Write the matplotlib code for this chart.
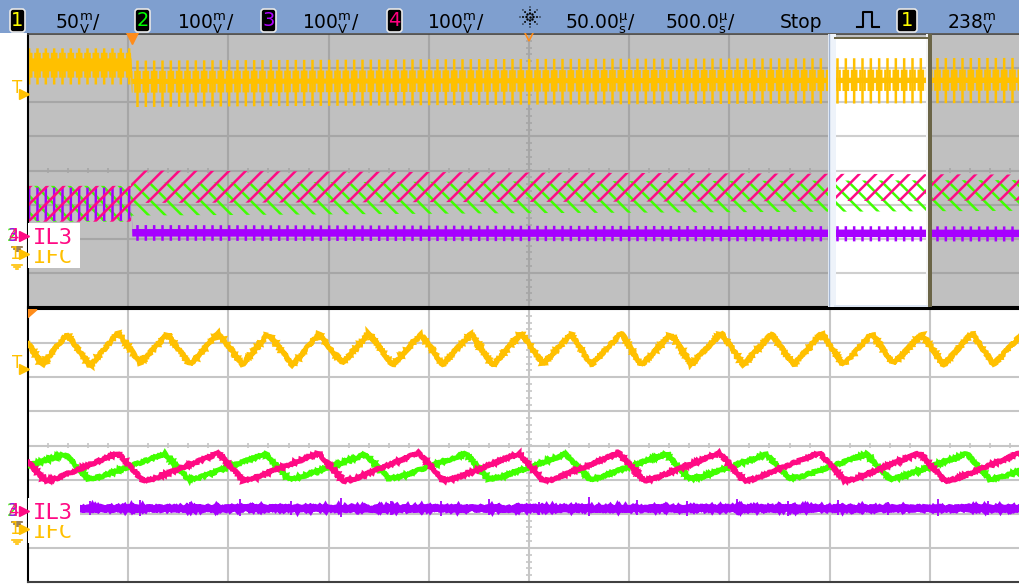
import numpy as np
import matplotlib
matplotlib.use("Agg")
import matplotlib.pyplot as plt
from matplotlib.patches import Rectangle, FancyBboxPatch, Polygon
from matplotlib.transforms import blended_transform_factory

# ---- scope settings shown in the header ----
ch_ids = ["1", "2", "3", "4"]
ch_scales = ["50", "100", "100", "100"]          # mV/div
time_scales = ["50.00", "500.0"]                 # µs/div (zoom, main)
run_state = "Stop"
trig_source = "1"
trig_level_mv = 238
ch1_ground_div = -2.46
ch234_ground_div = -1.93
label_il3 = "IL3"
label_ifc = "IFC"

# ---- main window (500 µs/div): envelopes of the compressed traces ----
main_t = [0, 514, 518, 2500, 5000]
yel_hi = [3.58, 3.58, 3.22, 3.27, 3.30]
yel_lo = [2.52, 2.52, 1.86, 1.93, 1.98]
yel_mid_hi = [3.45, 3.45, 2.92, 2.94, 2.96]
yel_mid_lo = [2.72, 2.72, 2.28, 2.31, 2.34]
yel_core_hi = [3.30, 3.30, 2.70, 2.72, 2.74]
yel_core_lo = [2.92, 2.92, 2.55, 2.57, 2.58]
pnk_hi = [-0.45, -0.45, 0.00, -0.06, -0.12]
pnk_lo = [-1.50, -1.50, -0.95, -0.92, -0.88]
grn_hi = [-0.45, -0.45, -0.36, -0.32, -0.28]
grn_lo = [-1.50, -1.50, -1.32, -1.25, -1.18]
pur_hi = [-0.50, -0.50, -1.60, -1.62, -1.64]
pur_lo = [-1.48, -1.48, -2.06, -2.07, -2.08]
pur_core_hi = [-0.95, -0.95, -1.70, -1.71, -1.72]
pur_core_lo = [-0.95, -0.95, -1.92, -1.93, -1.94]
zoom_start, zoom_end = 4000, 4500

# ---- zoom window (50 µs/div), t in µs, y in divisions ----
yel_t = [0, 7, 19.5, 31, 45, 56, 69.5, 81, 95, 107, 120, 132, 145, 157, 170,
         182, 196, 207, 221, 232, 246, 257, 271, 281, 296, 306, 321, 331, 346,
         357, 371, 382, 396, 407, 421, 432, 446, 457, 471, 482, 496, 500]
yel_y = [3.0, 2.36, 3.27, 2.33, 3.31, 2.42, 3.25, 2.36, 3.30, 2.38, 3.28, 2.35,
         3.27, 2.40, 3.29, 2.36, 3.26, 2.37, 3.28, 2.34, 3.30, 2.39, 3.27, 2.36,
         3.29, 2.35, 3.26, 2.38, 3.30, 2.36, 3.27, 2.37, 3.29, 2.35, 3.28, 2.39,
         3.27, 2.36, 3.29, 2.38, 3.27, 2.97]
grn_t = [0, 18.5, 30, 36, 68.5, 80, 86, 118.5, 130, 136, 168.5, 180, 186, 218.5,
         230, 236, 268.5, 280, 286, 318.5, 330, 336, 368.5, 380, 386, 418.5, 430,
         436, 468.5, 480, 486, 500]
grn_y = [-0.60, -0.25, -0.98, -0.92, -0.24, -0.99, -0.93, -0.25, -0.98, -0.92,
         -0.26, -0.97, -0.91, -0.24, -0.98, -0.93, -0.25, -0.99, -0.92, -0.24,
         -0.98, -0.92, -0.26, -0.97, -0.91, -0.25, -0.98, -0.92, -0.24, -0.99,
         -0.93, -0.63]
pnk_t = [0, 8.5, 14, 45, 57.5, 63, 95, 107.5, 113, 145, 157.5, 163, 195, 207.5,
         213, 245, 257.5, 263, 295, 307.5, 313, 345, 357.5, 363, 395, 407.5, 413,
         445, 457.5, 463, 495, 500]
pnk_y = [-0.48, -1.03, -0.97, -0.22, -1.04, -0.97, -0.23, -1.03, -0.96, -0.22,
         -1.04, -0.98, -0.21, -1.03, -0.97, -0.23, -1.05, -0.97, -0.22, -1.03,
         -0.96, -0.22, -1.04, -0.97, -0.21, -1.03, -0.97, -0.22, -1.04, -0.98,
         -0.22, -0.55]
pur_t = [0, 500]
pur_y = [-1.83, -1.83]
pur_spike_t = [31, 56, 81, 106, 131, 156, 181, 206, 230, 255, 280, 304, 329,
               354, 379, 404, 429, 454, 479]
pur_spike_hi = [-1.62, -1.60, -1.66, -1.58, -1.63, -1.55, -1.64, -1.62, -1.58,
                -1.66, -1.52, -1.61, -1.64, -1.57, -1.63, -1.60, -1.65, -1.56, -1.62]
pur_spike_lo = [-2.05, -2.08, -2.02, -2.06, -2.04, -2.09, -2.03, -2.06, -2.05,
                -2.04, -2.08, -2.03, -2.06, -2.02, -2.07, -2.04, -2.05, -2.08, -2.03]

YEL = "#ffc000"
GRN = "#40ff00"
PNK = "#ff0a84"
PUR = "#a600ff"
GRAY = "#c0c0c0"
ORANGE = "#ff8c1a"
hdr_colors = ["#ffff00", "#00ff00", "#b000ff", "#ff0080"]

plt.rcParams["hatch.linewidth"] = 1.8

W, H = 1020, 584
fig = plt.figure(figsize=(10.2, 5.84), dpi=100)


def box(x0, y0, x1, y1):
    return [x0 / W, 1 - y1 / H, (x1 - x0) / W, (y1 - y0) / H]


ax_main = fig.add_axes(box(28, 34, 1030, 307))
ax_zoom = fig.add_axes(box(28, 309, 1030, 582))
ax_pix = fig.add_axes([0, 0, 1, 1], zorder=10)
ax_pix.set_xlim(0, W)
ax_pix.set_ylim(H, 0)
ax_pix.axis("off")
ax_pix.patch.set_visible(False)

# graticule
for ax, xmax, bg, gc in [(ax_main, 5000, GRAY, "#a6a6a6"), (ax_zoom, 500, "white", "#c6c6c6")]:
    ax.set_xlim(0, xmax)
    ax.set_ylim(-4, 4)
    ax.set_facecolor(bg)
    ax.set_xticks([])
    ax.set_yticks([])
    for t in np.linspace(0, xmax, 11)[1:-1]:
        ax.axvline(t, color=gc, lw=1.5, zorder=1)
    for d in range(-3, 4):
        ax.axhline(d, color=gc, lw=1.5, zorder=1)
    ax.vlines(np.arange(0, xmax, xmax / 50), -0.07, 0.07, color=gc, lw=1.2, zorder=1)
    ax.hlines(np.arange(-4, 4, 0.2), xmax / 2 - xmax * 0.003, xmax / 2 + xmax * 0.003,
              color=gc, lw=1.2, zorder=1)
    ax.spines["right"].set_visible(False)
    ax.spines["left"].set_color("black")
    ax.spines["left"].set_linewidth(1.5)

ax_main.spines["top"].set_color("#404040")
ax_main.spines["top"].set_linewidth(1.2)
ax_main.spines["bottom"].set_color("black")
ax_main.spines["bottom"].set_linewidth(1.5)
ax_zoom.spines["top"].set_color("black")
ax_zoom.spines["top"].set_linewidth(1.5)
ax_zoom.spines["bottom"].set_color("#404040")
ax_zoom.spines["bottom"].set_linewidth(1.5)

# zoom window highlight in the main view
ax_main.add_patch(Rectangle((zoom_start, -4), zoom_end - zoom_start, 7.92,
                            fc="white", ec="none", zorder=1.5))
ax_main.hlines(range(-3, 4), zoom_start + 30, zoom_end - 20, color="#cfcfcf", lw=1.5, zorder=1.6)

# main view traces (dense switching ripple drawn as hatched envelopes)
ax_main.fill_between(main_t, yel_lo, yel_hi, facecolor="none", edgecolor=YEL,
                     hatch="||", linewidth=0, zorder=2)
ax_main.fill_between(main_t, yel_mid_lo, yel_mid_hi, facecolor="none", edgecolor=YEL,
                     hatch="||||", linewidth=0, zorder=2)
ax_main.fill_between(main_t, yel_core_lo, yel_core_hi, color=YEL, lw=0, zorder=2)
ax_main.fill_between(main_t, grn_lo, grn_hi, facecolor="none", edgecolor=GRN,
                     hatch="\\\\", linewidth=0, zorder=2)
ax_main.fill_between(main_t, pur_lo, pur_hi, facecolor="none", edgecolor=PUR,
                     hatch="||", linewidth=0, zorder=2.1)
ax_main.fill_between(main_t, pur_core_lo, pur_core_hi, color=PUR, lw=0, zorder=2.1)
ax_main.fill_between(main_t, pnk_lo, pnk_hi, facecolor="none", edgecolor=PNK,
                     hatch="//", linewidth=0, zorder=2.2)

# zoom window frame (bevel)
ax_main.add_patch(Rectangle((3992, -4), 40, 8, fc="#eef3fa", ec="none", zorder=5))
ax_main.axvline(3996, color="#a4b6d2", lw=1, zorder=5)
ax_main.add_patch(Rectangle((4481, -4), 10, 8, fc="#f4f4f4", ec="none", zorder=5))
ax_main.add_patch(Rectangle((4491, -4), 20, 8, fc="#6b6547", ec="none", zorder=5))
ax_main.add_patch(Rectangle((4020, 3.84), 471, 0.07, fc="#6b6547", ec="none", zorder=5))
ax_main.add_patch(Rectangle((4020, -4), 471, 0.06, fc="#dde6f3", ec="none", zorder=5))

# zoom view traces
for t, y, c, lw in [(yel_t, yel_y, YEL, 3.4), (grn_t, grn_y, GRN, 3.4),
                    (pnk_t, pnk_y, PNK, 3.4), (pur_t, pur_y, PUR, 5.0)]:
    ln, = ax_zoom.plot(t, y, color=c, lw=lw, zorder=3, solid_joinstyle="miter")
    ln.set_sketch_params(scale=1.0, length=2.0, randomness=5)
ax_zoom.vlines(pur_spike_t, pur_spike_lo, pur_spike_hi, color=PUR, lw=1.3, zorder=3)

# trigger markers
ax_main.plot([520], [3.88], marker="v", color=ORANGE, ms=9, clip_on=False, zorder=6)
ax_main.plot([2500], [3.93], marker="v", color=ORANGE, ms=7, fillstyle="none",
             mew=1.2, clip_on=False, zorder=6)
ax_zoom.add_patch(Polygon([(0, 3.98), (4.5, 3.98), (0, 3.75)], closed=True,
                          color=ORANGE, zorder=6))

# trace labels (white boxes hide what is behind them)
for ax, xr in [(ax_main, 260), (ax_zoom, 26)]:
    ax.add_patch(Rectangle((0, -2.86), xr, 1.32, fc="white", ec="none", zorder=6))
    ax.text(xr * 0.1, -2.70, label_ifc, color=YEL, fontsize=16,
            family="DejaVu Sans Mono", zorder=7)
    ax.add_patch(Rectangle((0, -2.34), xr, 0.8, fc="white", ec="none", zorder=8))
    ax.text(xr * 0.1, -2.15, label_il3, color=PNK, fontsize=16,
            family="DejaVu Sans Mono", zorder=9)

# left margin: trigger level and ground markers
trig_div = ch1_ground_div + trig_level_mv / float(ch_scales[0])
for ax in (ax_main, ax_zoom):
    tr = blended_transform_factory(ax_pix.transData, ax.transData)
    ax_pix.text(17.5, trig_div - 0.02, "T", color=YEL, fontsize=12, ha="center",
                va="baseline", transform=tr)
    ax_pix.plot([24.5], [trig_div - 0.05], marker=">", color=YEL, ms=7, transform=tr,
                clip_on=False)
    for dx, c, n in [(-2, GRN, "2"), (-1, PUR, "3"), (0, PNK, "4")]:
        ax_pix.text(14 + dx, ch234_ground_div, n, color=c, fontsize=12, ha="center",
                    va="center", transform=tr)
    ax_pix.plot([24.5], [ch234_ground_div], marker=">", color=PNK, ms=7, transform=tr,
                clip_on=False)
    ax_pix.text(14, ch1_ground_div, "1", color=YEL, fontsize=12, ha="center",
                va="center", transform=tr)
    ax_pix.plot([24.5], [ch1_ground_div], marker=">", color=YEL, ms=7, transform=tr,
                clip_on=False)
    for g, c in [(ch234_ground_div, "#8a6a3a"), (ch1_ground_div, YEL)]:
        for k, w in enumerate([5, 3, 1]):
            ax_pix.plot([17 - w, 17 + w], [g - 0.30 - 0.07 * k] * 2, color=c, lw=1.2,
                        transform=tr, clip_on=False)

# header bar
ax_pix.add_patch(Rectangle((0, 0), W, 33, fc="#7f9fcf", ec="none"))
mv = r"$^{\mathrm{m}}_{\mathrm{V}}$"
us = r"$^{\mathrm{\mu}}_{\mathrm{s}}$"
for cid, sc, bx, c, tx in zip(ch_ids, ch_scales, [10, 135, 261, 387], hdr_colors,
                              [55, 177, 302, 427]):
    ax_pix.add_patch(FancyBboxPatch((bx, 9), 15, 23, boxstyle="round,pad=0,rounding_size=3",
                                    fc="black", ec="#e8e8e8", lw=1.2))
    ax_pix.text(bx + 7.5, 21, cid, color=c, fontsize=14, ha="center", va="center")
    ax_pix.text(tx, 28, sc + mv + "/", fontsize=13.5, va="baseline")

for ang in np.arange(0, 360, 45):
    r = np.array([3.5, 7.0, 10.0])
    ax_pix.scatter(530 + r * np.cos(np.radians(ang)), 17 + r * np.sin(np.radians(ang)),
                   s=[3, 2, 1], color="black", lw=0)
ax_pix.scatter([530], [17], s=3, color="black", lw=0)

ax_pix.text(565, 28, time_scales[0] + us + "/", fontsize=13.5, va="baseline")
ax_pix.text(665, 28, time_scales[1] + us + "/", fontsize=13.5, va="baseline")
ax_pix.text(780, 28, run_state, fontsize=13.5, va="baseline")
ax_pix.plot([857, 863, 863, 872, 872, 879], [27, 27, 12, 12, 27, 27], color="black", lw=1.5)
ax_pix.add_patch(FancyBboxPatch((897, 9), 20, 23, boxstyle="round,pad=0,rounding_size=3",
                                fc="black", ec="#e8e8e8", lw=1.2))
ax_pix.text(907, 21, trig_source, color=hdr_colors[0], fontsize=14, ha="center", va="center")
ax_pix.text(947, 28, str(trig_level_mv) + mv, fontsize=13.5, va="baseline")

fig.savefig("out.png", dpi=100, facecolor="white")
